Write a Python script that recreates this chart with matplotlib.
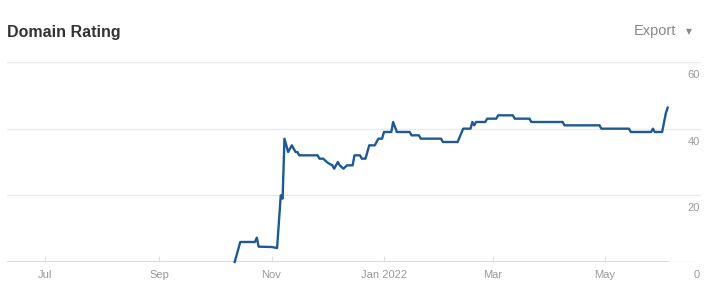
import pandas as pd
import matplotlib
matplotlib.use('Agg')
import matplotlib.pyplot as plt
import matplotlib.dates as mdates

plt.rcParams['font.family'] = ['Liberation Sans', 'DejaVu Sans']

# Domain Rating history
dates = [
    '2021-10-12', '2021-10-15', '2021-10-23', '2021-10-24', '2021-10-25', '2021-11-01',
    '2021-11-04', '2021-11-06', '2021-11-07', '2021-11-08', '2021-11-10', '2021-11-12',
    '2021-11-14', '2021-11-15', '2021-11-16', '2021-11-26', '2021-11-27', '2021-11-29',
    '2021-12-01', '2021-12-02', '2021-12-04', '2021-12-05', '2021-12-07', '2021-12-08',
    '2021-12-10', '2021-12-12', '2021-12-15', '2021-12-16', '2021-12-19', '2021-12-20',
    '2021-12-22', '2021-12-24', '2021-12-27', '2021-12-29', '2021-12-31', '2022-01-01',
    '2022-01-05', '2022-01-06', '2022-01-08', '2022-01-15', '2022-01-16', '2022-01-20',
    '2022-01-21', '2022-02-01', '2022-02-02', '2022-02-10', '2022-02-13', '2022-02-17',
    '2022-02-18', '2022-02-19', '2022-02-20', '2022-02-25', '2022-02-26', '2022-03-03',
    '2022-03-04', '2022-03-12', '2022-03-13', '2022-03-21', '2022-03-22', '2022-04-08',
    '2022-04-09', '2022-04-28', '2022-04-29', '2022-05-14', '2022-05-15', '2022-05-26',
    '2022-05-27', '2022-05-28', '2022-06-01', '2022-06-03', '2022-06-04',
]
rating = [
    0, 6, 6, 7.3, 4.6, 4.5,
    4.2, 20, 19, 37, 33, 35,
    33, 33, 32, 32, 31, 31,
    30, 29.6, 29, 28, 30, 29,
    28, 29, 29, 32, 32, 31,
    31, 35, 35, 37, 37, 39,
    39, 42, 39, 39, 38, 38,
    37, 37, 36, 36, 40, 40,
    42, 41, 42, 42, 43, 43,
    44, 44, 43, 43, 42, 42,
    41, 41, 40, 40, 39, 39,
    40, 39, 39, 44.6, 46.3,
]

month_ticks = ['2021-07-01', '2021-09-01', '2021-11-01', '2022-01-01', '2022-03-01', '2022-05-01']
month_labels = ['Jul', 'Sep', 'Nov', 'Jan 2022', 'Mar', 'May']
y_ticks = [0, 20, 40, 60]

x = pd.to_datetime(dates)

fig = plt.figure(figsize=(7.18, 2.99), dpi=100)
ax = fig.add_axes([7 / 718, 37 / 299, 694 / 718, 200 / 299])

# grid lines
for v in y_ticks:
    ax.axhline(v, color='#ebebeb', lw=1, zorder=0)

ax.plot(x, rating, color='#1d5a94', lw=1.7, clip_on=False, zorder=3,
        solid_joinstyle='round')

x_left = pd.Timestamp('2021-07-01') - pd.Timedelta(days=20.6)
x_right = pd.Timestamp('2021-07-01') + pd.Timedelta(days=356.1)
ax.set_xlim(x_left, x_right)
ax.set_ylim(0, 60)

# darker baseline under the data range
end_frac = (mdates.date2num(x[-1]) - mdates.date2num(x_left)) / (mdates.date2num(x_right) - mdates.date2num(x_left))
ax.axhline(0, xmax=end_frac, color='#d4d4d4', lw=1.2, zorder=1)

for s in ax.spines.values():
    s.set_visible(False)

ax.set_xticks(pd.to_datetime(month_ticks))
ax.set_xticklabels(month_labels)
ax.tick_params(axis='x', direction='in', length=4, width=0.8, color='#e0e0e0',
               labelcolor='#999999', labelsize=8, pad=6)
ax.set_yticks([])

for v in y_ticks:
    ax.annotate(str(v), xy=(1, v), xycoords=('axes fraction', 'data'),
                xytext=(-1, -13), textcoords='offset pixels',
                ha='right', va='center', color='#999999', fontsize=8)

fig.text(7 / 718, 1 - 32 / 299, 'Domain Rating', fontsize=11.5, fontweight='bold',
         color='#333333', va='center')
fig.text(676 / 718, 1 - 31 / 299, 'Export', fontsize=10.5, color='#888888',
         ha='right', va='center')
fig.text(689 / 718, 1 - 32 / 299, '\u25bc', fontsize=5.5, color='#888888',
         ha='center', va='center', family=['DejaVu Sans'])

fig.savefig('out.png', dpi=100)
